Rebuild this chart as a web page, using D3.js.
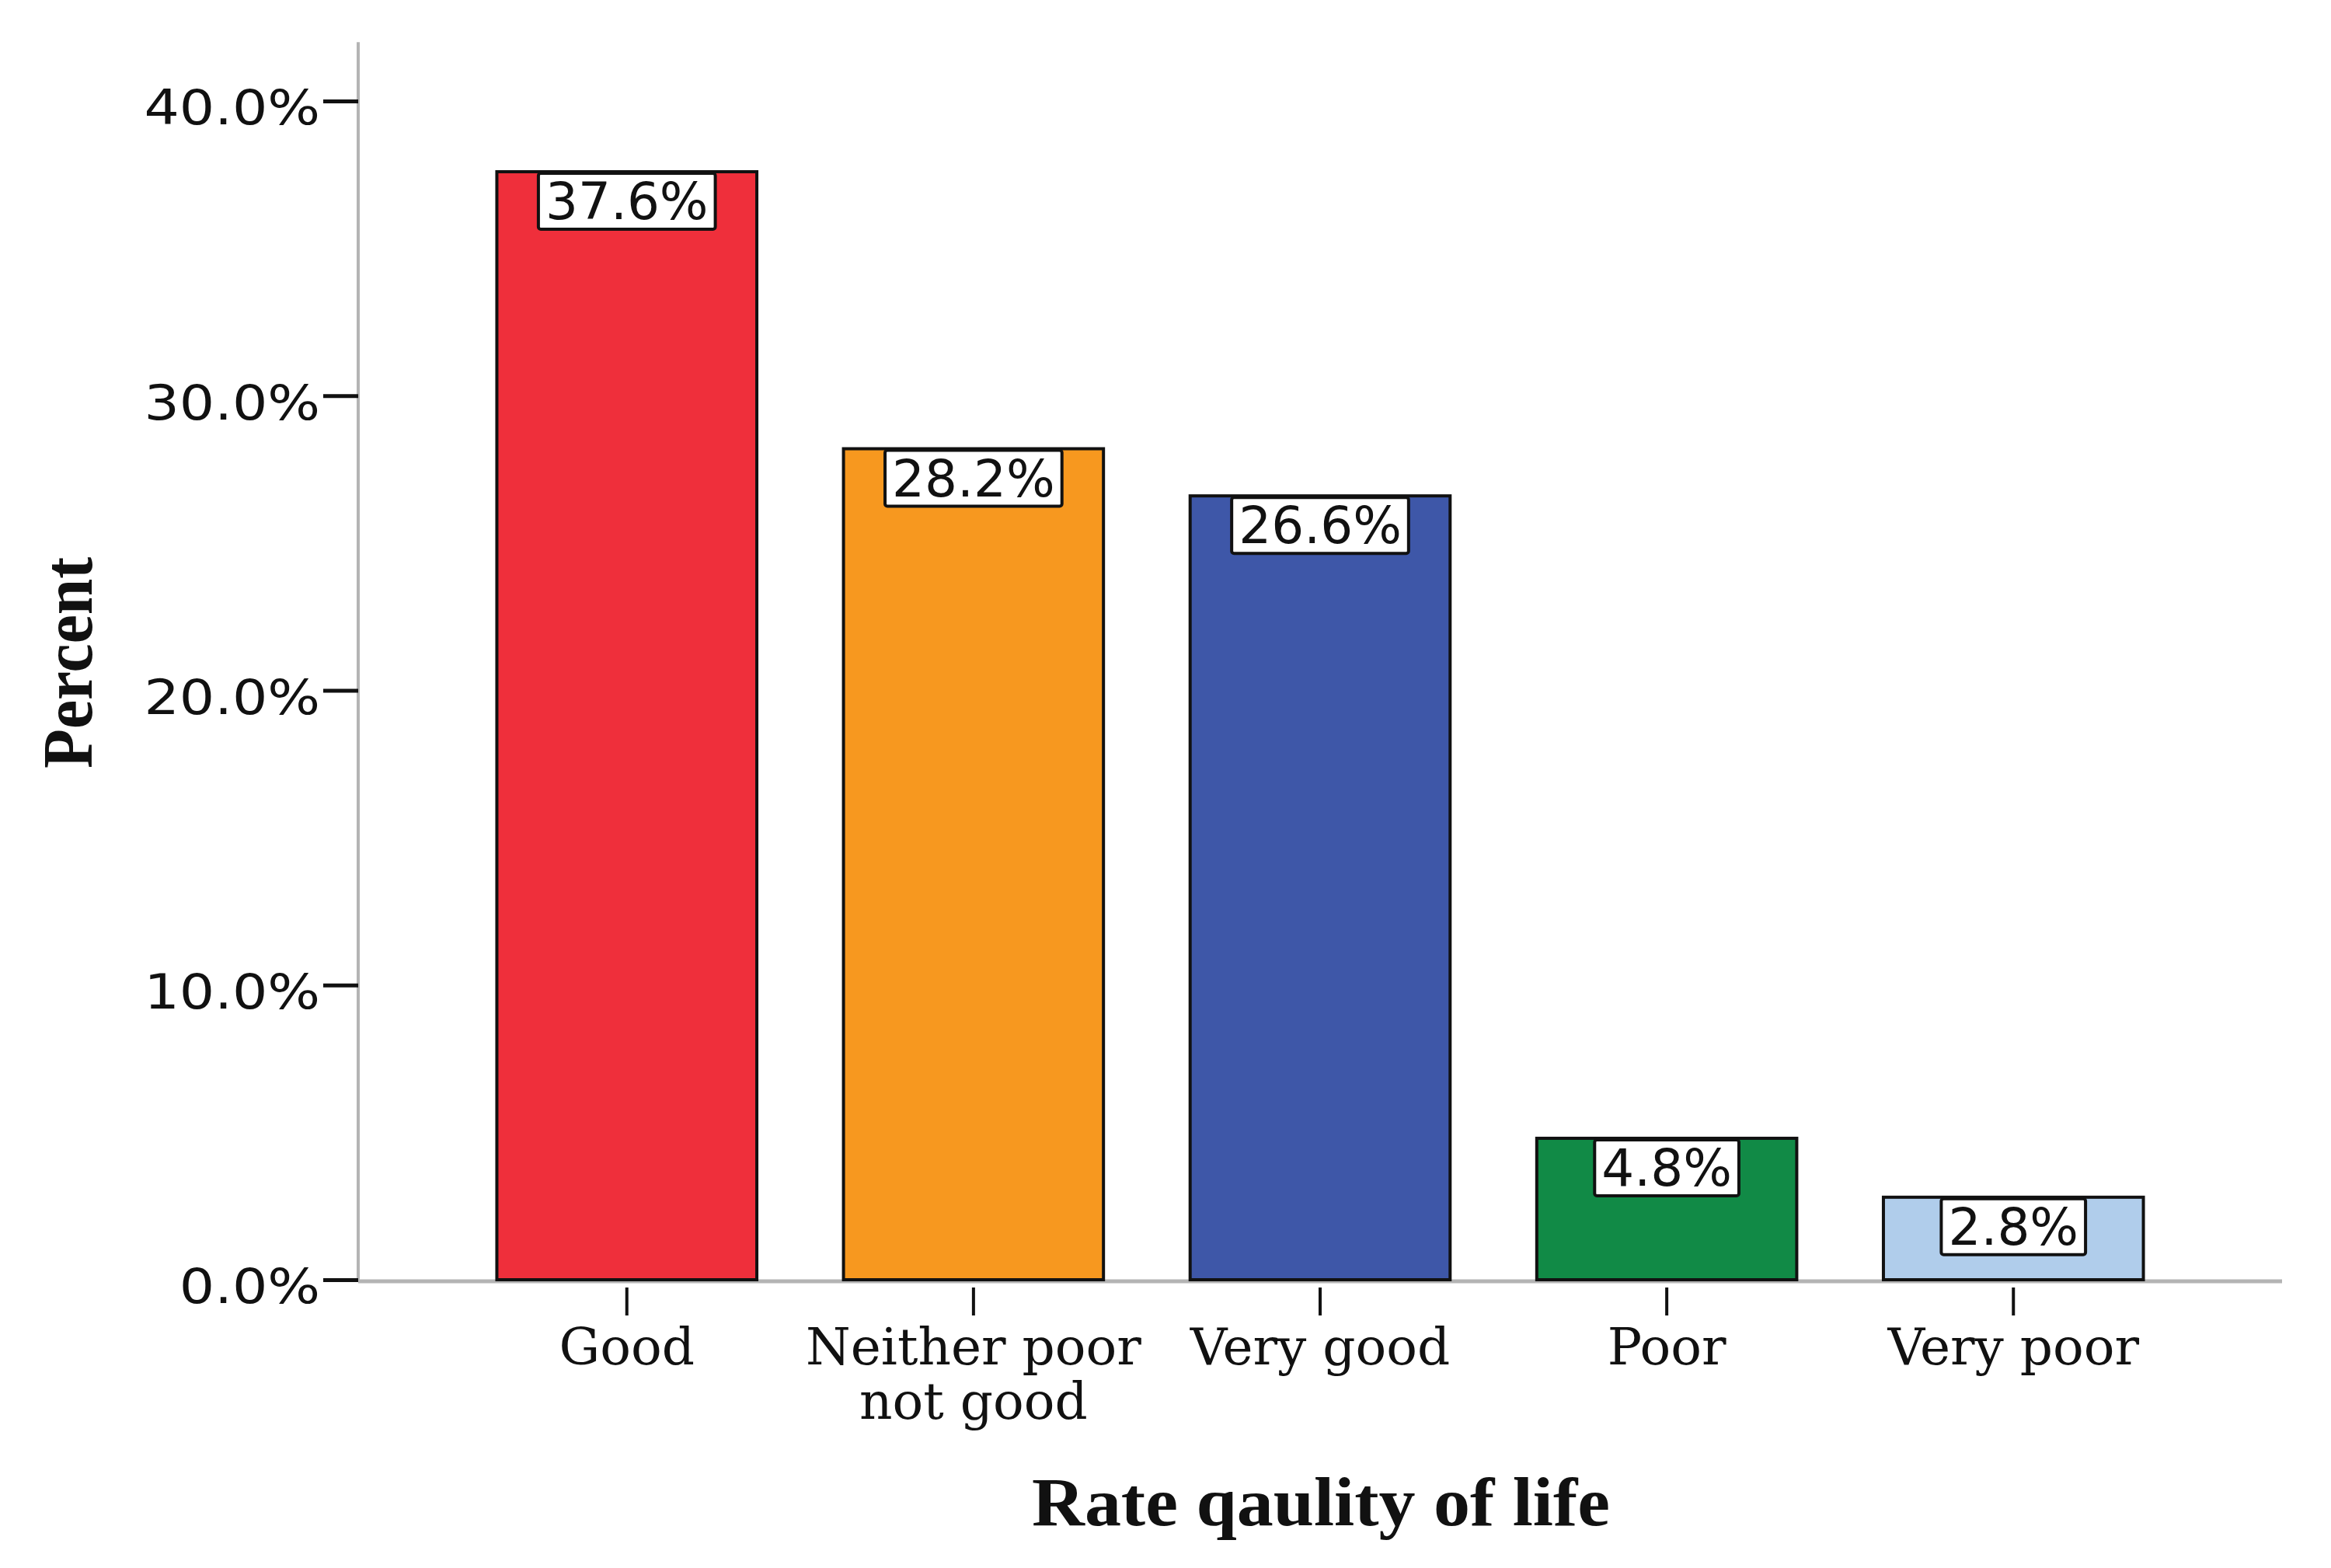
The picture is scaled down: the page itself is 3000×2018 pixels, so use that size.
<!DOCTYPE html>
<html>
<head>
<meta charset="utf-8">
<script src="https://cdn.jsdelivr.net/npm/d3@7"></script>
<style>
  html, body { margin: 0; padding: 0; background: #ffffff; }
  svg { display: block; }
</style>
</head>
<body>
<svg id="chart" width="3000" height="2018"></svg>
<script>
const categories = ["Good", "Neither poor not good", "Very good", "Poor", "Very poor"];
const categoryLines = [["Good"], ["Neither poor", "not good"], ["Very good"], ["Poor"], ["Very poor"]];
const percents = [37.6, 28.2, 26.6, 4.8, 2.8];
const barColors = ["#EF2F3B", "#F7981F", "#3E57A8", "#118A46", "#B0CDEB"];
const yTickValues = [0, 10, 20, 30, 40];
const yTitle = "Percent";
const xTitle = "Rate qaulity of life";

const svg = d3.select("#chart");
const W = 3000, H = 2018;
const axisX = 461, axisY = 1647, axisRight = 2937;

const x = d3.scaleBand()
  .domain(categories)
  .range([axisX, axisRight])
  .paddingInner(0.25)
  .paddingOuter(0.40);

const y = d3.scaleLinear()
  .domain([0, 40])
  .range([axisY, 130]);

svg.append("rect").attr("width", W).attr("height", H).attr("fill", "#fff");

// axis lines
svg.append("line")
  .attr("x1", axisX).attr("x2", axisX)
  .attr("y1", y(42)).attr("y2", axisY + 2)
  .attr("stroke", "#b4b4b4").attr("stroke-width", 4);

svg.append("line")
  .attr("x1", axisX).attr("x2", axisRight)
  .attr("y1", axisY + 2).attr("y2", axisY + 2)
  .attr("stroke", "#b4b4b4").attr("stroke-width", 5);

// bars
const data = categories.map((c, i) => ({ cat: c, v: percents[i], color: barColors[i], lines: categoryLines[i] }));

svg.append("g").selectAll("rect")
  .data(data)
  .join("rect")
  .attr("x", d => x(d.cat))
  .attr("y", d => y(d.v))
  .attr("width", x.bandwidth())
  .attr("height", d => axisY - y(d.v))
  .attr("fill", d => d.color)
  .attr("stroke", "#111")
  .attr("stroke-width", 4);

// y axis ticks
const yAxis = d3.axisLeft(y)
  .tickValues(yTickValues)
  .tickSize(45)
  .tickPadding(4)
  .tickFormat(d => d3.format(".1f")(d) + "%");

const gy = svg.append("g").attr("transform", `translate(${axisX},0)`).call(yAxis);
gy.select(".domain").remove();
gy.selectAll(".tick line").attr("stroke", "#111").attr("stroke-width", 5);
gy.selectAll(".tick text")
  .attr("font-family", "'DejaVu Sans', sans-serif")
  .attr("font-size", 62)
  .attr("fill", "#111")
  .attr("dy", "0.48em")
  .each(function() {
    const w = this.getComputedTextLength();
    d3.select(this).attr("textLength", w * 1.15).attr("lengthAdjust", "spacingAndGlyphs");
  });

// x axis ticks
const xAxis = d3.axisBottom(x).tickSize(0).tickFormat("");
const gx = svg.append("g").attr("transform", `translate(0,${axisY})`).call(xAxis);
gx.select(".domain").remove();
gx.selectAll(".tick").append("line")
  .attr("x1", 0).attr("x2", 0)
  .attr("y1", 10).attr("y2", 46)
  .attr("stroke", "#111").attr("stroke-width", 4);

gx.selectAll(".tick").each(function(d, i) {
  const t = d3.select(this).append("text")
    .attr("font-family", "'DejaVu Serif', serif")
    .attr("font-size", 66)
    .attr("fill", "#111")
    .attr("text-anchor", "middle");
  categoryLines[i].forEach((line, j) => {
    t.append("tspan").attr("x", 0).attr("y", 109 + j * 70).text(line);
  });
});

// value labels with boxes
const labels = svg.append("g").selectAll("g")
  .data(data)
  .join("g")
  .attr("transform", d => `translate(${x(d.cat) + x.bandwidth() / 2},${y(d.v)})`);

labels.each(function(d) {
  const g = d3.select(this);
  const txt = g.append("text")
    .attr("font-family", "'DejaVu Sans', sans-serif")
    .attr("font-size", 66)
    .attr("fill", "#111")
    .attr("text-anchor", "middle")
    .attr("y", 61)
    .text(d3.format(".1f")(d.v) + "%");
  const bb = txt.node().getBBox();
  g.insert("rect", "text")
    .attr("x", -bb.width / 2 - 9)
    .attr("y", 2)
    .attr("width", bb.width + 18)
    .attr("height", 72)
    .attr("rx", 3)
    .attr("fill", "#fff")
    .attr("stroke", "#111")
    .attr("stroke-width", 4);
});

// titles
svg.append("text")
  .attr("transform", `translate(118,853) rotate(-90)`)
  .attr("text-anchor", "middle")
  .attr("font-family", "'Liberation Serif', serif")
  .attr("font-weight", "bold")
  .attr("font-size", 92)
  .attr("textLength", 272)
  .attr("lengthAdjust", "spacingAndGlyphs")
  .attr("fill", "#111")
  .text(yTitle);

svg.append("text")
  .attr("x", 1700).attr("y", 1963)
  .attr("text-anchor", "middle")
  .attr("font-family", "'Liberation Serif', serif")
  .attr("font-weight", "bold")
  .attr("font-size", 88)
  .attr("textLength", 744)
  .attr("lengthAdjust", "spacingAndGlyphs")
  .attr("fill", "#111")
  .text(xTitle);
</script>
</body>
</html>
